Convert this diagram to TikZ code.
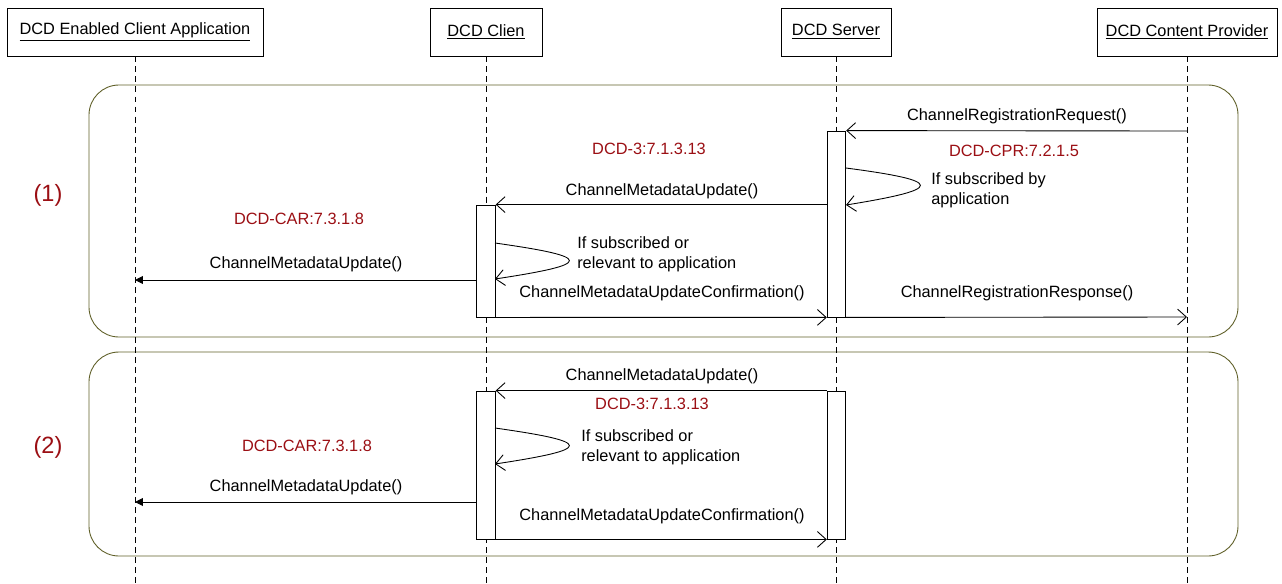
\documentclass[tikz,border=0pt]{standalone}
\usepackage{fontspec}
\setmainfont{Liberation Sans}
\usetikzlibrary{arrows.meta}
\definecolor{refred}{RGB}{155,15,20}
\definecolor{frameolive}{RGB}{95,95,40}

\begin{document}
\begin{tikzpicture}[x=0.02cm, y=-0.02cm, line width=0.5pt,
	every node/.style = {font=\fontsize{9.3}{11.3}\selectfont},
	head/.style = {draw, minimum height=0.96cm, inner sep=0pt},
	act/.style = {draw, fill=white, minimum width=0.37cm, inner sep=0pt},
	life/.style = {dash pattern=on 3.4pt off 2.3pt},
	frame/.style = {draw=frameolive, rounded corners=0.6cm},
	msg/.style = {-{Straight Barb[length=5pt, width=9pt]}},
	call/.style = {-{Triangle[length=4.5pt, width=4.5pt]}},
	ref/.style = {text=refred},
	note/.style = {anchor=west, align=left},
	phase/.style = {text=refred, font=\fontsize{13.4}{16}\selectfont}]
				\useasboundingbox (0,0) rectangle (1282,583);
				\draw[frame] (89,85) rectangle (1238,337);
				\draw[frame] (89,352) rectangle (1238,556);
				
				\node[head, minimum width=5.12cm] (app) at (135,32) {\underline{DCD Enabled Client Application}};
				\node[head, minimum width=2.24cm] (cli) at (486,32) {\underline{DCD Clien}};
				\node[head, minimum width=2.2cm] (srv) at (836,32) {\underline{DCD Server}};
				\node[head, minimum width=3.6cm] (cp) at (1187,32) {\underline{DCD Content Provider}};
				\coordinate (appEnd) at (135,583);
				\coordinate (cliEnd) at (486,583);
				\coordinate (srvEnd) at (836,583);
				\coordinate (cpEnd) at (1187,583);
				\draw[life] (app) -- (appEnd);
				\draw[life] (cli) -- (cliEnd);
				\draw[life] (srv) -- (srvEnd);
				\draw[life] (cp) -- (cpEnd);
				
				\node[phase] (one) at (48,195) {(1)};
				\node[act, minimum height=3.72cm] (srv1) at (836.5,224) {};
				\node[act, minimum height=2.24cm] (cli1) at (486,261) {};
				\coordinate (cpReq) at (1187,131);
				\coordinate (cpRes) at (1187,317);
				\coordinate (appUpd1) at (135,280);
				\coordinate (srvLoopA) at (846,168);
				\coordinate (srvLoopB) at (846,205);
				\coordinate (cliLoopA) at (495,243);
				\coordinate (cliLoopB) at (495,279);
				\draw[msg] (cpReq) -- (srv1.north east);
				\draw[msg] (srvLoopA) .. controls (945,181) and (945,189) .. (srvLoopB);
				\draw[msg] (srv1.west |- cli1.north) -- (cli1.north east);
				\draw[msg] (cliLoopA) .. controls (594,257) and (594,264) .. (cliLoopB);
				\draw[call] (cli1.west |- appUpd1) -- (appUpd1);
				\draw[msg] (cli1.south east) -- (srv1.south west);
				\draw[msg] (srv1.south east) -- (cpRes);
				\node (reqLbl) at (1017,116) {ChannelRegistrationRequest()};
				\node[ref] (cprRef) at (1014,151) {DCD-CPR:7.2.1.5};
				\node[note] (srvNote) at (925,190) {If subscribed by\\application};
				\node[ref] (dcd3Ref1) at (649,149) {DCD-3:7.1.3.13};
				\node (updLbl1) at (662,191) {ChannelMetadataUpdate()};
				\node[ref] (carRef1) at (299,219) {DCD-CAR:7.3.1.8};
				\node[note] (cliNote1) at (571,254) {If subscribed or\\relevant to application};
				\node (appLbl1) at (306,264) {ChannelMetadataUpdate()};
				\node (confLbl1) at (662,293) {ChannelMetadataUpdateConfirmation()};
				\node (resLbl) at (1017,293) {ChannelRegistrationResponse()};
				
				\node[phase] (two) at (48,447) {(2)};
				\node[act, minimum height=2.96cm] (srv2) at (836.5,465) {};
				\node[act, minimum height=2.96cm] (cli2) at (486,465) {};
				\coordinate (appUpd2) at (135,502);
				\coordinate (cliLoopC) at (495,428);
				\coordinate (cliLoopD) at (495,464);
				\draw[msg] (srv2.north west) -- (cli2.north east);
				\draw[msg] (cliLoopC) .. controls (594,442) and (594,449) .. (cliLoopD);
				\draw[call] (cli2.west |- appUpd2) -- (appUpd2);
				\draw[msg] (cli2.south east) -- (srv2.south west);
				\node (updLbl2) at (662,376) {ChannelMetadataUpdate()};
				\node[ref] (dcd3Ref2) at (652,404) {DCD-3:7.1.3.13};
				\node[note] (cliNote2) at (575,447) {If subscribed or\\relevant to application};
				\node[ref] (carRef2) at (307,446) {DCD-CAR:7.3.1.8};
				\node (appLbl2) at (306,487) {ChannelMetadataUpdate()};
				\node (confLbl2) at (662,516) {ChannelMetadataUpdateConfirmation()};
			\end{tikzpicture}
\end{document}
